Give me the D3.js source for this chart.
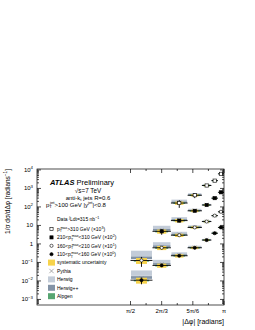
<!DOCTYPE html>
<html>
<head>
<meta charset="utf-8">
<script src="https://cdn.jsdelivr.net/npm/d3@7"></script>
<style>
body { margin: 0; background: #fff; }
svg text { font-family: "Liberation Sans", Arial, Helvetica, sans-serif; fill: #000; }
</style>
</head>
<body>
<svg id="chart" width="255" height="330"></svg>
<script>
// |dphi| bins (radians)
var binLo = [1.571, 1.94, 2.25, 2.53, 2.77, 2.93, 3.04];
var binHi = [1.94, 2.25, 2.53, 2.77, 2.93, 3.04, 3.1416];

// 1/sigma dsigma/d(dphi) per pT range, before the scale factor
var ptMax310 = [0.162, 0.427, 1.44, 2.64, 6.16];
var pt210to310 = [0.048, 0.183, 0.616, 1.27, 2.97, 6.17];
var pt160to210 = [0.0128, 0.062, 0.296, 0.78, 1.62, 3.38, 5.46];
var pt110to160 = [0.011, 0.069, 0.23, 0.62, 1.62, 3.8, 7.8];
var firstBin = [2, 1, 0, 0];
var scaleFactor = [1000, 100, 10, 1];

// relative stat. errors
var stat310 = [0.45, 0.3, 0.18, 0.12, 0.08];
var stat210 = [0.35, 0.2, 0.12, 0.1, 0.06, 0.05];
var stat160 = [0.55, 0.2, 0.12, 0.08, 0.06, 0.05, 0.04];
var stat110 = [0.4, 0.15, 0.08, 0.06, 0.05, 0.04, 0.03];

// relative systematic uncertainty per bin
var sysErr = [0.35, 0.25, 0.2, 0.15, 0.12, 0.1, 0.08];

// MC / data per bin, and the width of the MC bands
var herwigRatio = [2.4, 1.6, 1.3, 1.15, 1.05, 1.0, 0.98];
var herwigppRatio = [1.4, 1.2, 1.1, 1.05, 1.02, 1.0, 0.99];
var alpgenRatio = [0.95, 0.97, 1.0, 1.0, 1.0, 1.0, 1.0];
var pythiaRatio = [1.25, 1.15, 1.1, 1.05, 1.02, 1.0, 1.0];
var mcBand = [1.4, 1.25, 1.18, 1.12, 1.1, 1.08, 1.06];

var yTickExp = [-3, -2, -1, 0, 1, 2, 3, 4];
var xTickVals = [Math.PI / 2, 2 * Math.PI / 3, 5 * Math.PI / 6, Math.PI];
var xTickText = ["π/2", "2π/3", "5π/6", "π"];

var series = [
  {vals: ptMax310, stat: stat310, marker: "openSquare"},
  {vals: pt210to310, stat: stat210, marker: "square"},
  {vals: pt160to210, stat: stat160, marker: "openCircle"},
  {vals: pt110to160, stat: stat110, marker: "circle"}
];

var colSys = "#f7d34a", colHerwig = "#c3ccd8", colHerwigpp = "#8393a6", colAlpgen = "#56a571";

var svg = d3.select("#chart");
var L = 37, R = 224, T = 169, B = 305;
var x = d3.scaleLinear().domain([0, Math.PI]).range([L, R]);
var y = d3.scaleLog().domain([Math.pow(10, -3.3), Math.pow(10, 4.05)]).range([B, T]);

// rich text helper: parts = [text, "sub"|"sup"|undefined, dx]
function rich(sel, parts, size) {
  var off = 0;
  parts.forEach(function(p) {
    var shift = p[1] === "sub" ? 0.3 * size : p[1] === "sup" ? -0.42 * size : 0;
    var t = sel.append("tspan").text(p[0]).attr("dy", shift - off)
      .style("font-size", (p[1] ? size * 0.72 : size) + "px");
    if (p[2]) t.attr("dx", p[2]);
    off = shift;
  });
  return sel;
}

function drawMarker(g, type, cx, cy) {
  if (type === "openSquare" || type === "square") {
    g.append("rect").attr("x", cx - 1.6).attr("y", cy - 1.6).attr("width", 3.2).attr("height", 3.2)
      .attr("fill", type === "square" ? "#000" : "#fff").attr("stroke", "#000").attr("stroke-width", 0.6);
  } else {
    g.append("circle").attr("cx", cx).attr("cy", cy).attr("r", 1.6)
      .attr("fill", type === "circle" ? "#000" : "#fff").attr("stroke", "#000").attr("stroke-width", 0.6);
  }
}

function drawX(g, cx, cy, s) {
  g.append("path").attr("d", "M" + (cx - s) + "," + (cy - s) + "L" + (cx + s) + "," + (cy + s) +
    "M" + (cx + s) + "," + (cy - s) + "L" + (cx - s) + "," + (cy + s))
    .attr("stroke", "#777").attr("stroke-width", 0.6).attr("fill", "none");
}

// points
var plot = svg.append("g");
series.forEach(function(s, si) {
  s.vals.forEach(function(raw, i) {
    var b = firstBin[si] + i;
    var v = raw * scaleFactor[si];
    var x0 = x(binLo[b]), x1 = x(binHi[b]), xc = (x0 + x1) / 2, w = x1 - x0;
    var hv = v * herwigRatio[b], hp = v * herwigppRatio[b], av = v * alpgenRatio[b];
    plot.append("rect").attr("x", x0 + 0.5).attr("width", w - 1)
      .attr("y", y(hv * mcBand[b])).attr("height", y(hv / mcBand[b]) - y(hv * mcBand[b]))
      .attr("fill", colHerwig);
    plot.append("rect").attr("x", x0 + 0.5).attr("width", w - 1)
      .attr("y", y(hp * Math.sqrt(mcBand[b]))).attr("height", y(hp / Math.sqrt(mcBand[b])) - y(hp * Math.sqrt(mcBand[b])))
      .attr("fill", colHerwigpp);
    plot.append("rect").attr("x", x0 + w * 0.15).attr("width", w * 0.7)
      .attr("y", y(av) - 0.8).attr("height", 1.6)
      .attr("fill", colAlpgen);
    plot.append("rect").attr("x", xc - w * 0.25).attr("width", w * 0.5)
      .attr("y", y(v * (1 + sysErr[b]))).attr("height", y(v * (1 - sysErr[b])) - y(v * (1 + sysErr[b])))
      .attr("fill", colSys);
    plot.append("line").attr("x1", x0).attr("x2", x1).attr("y1", y(v)).attr("y2", y(v))
      .attr("stroke", "#000").attr("stroke-width", 0.9);
    plot.append("line").attr("x1", xc).attr("x2", xc)
      .attr("y1", y(v * (1 + s.stat[i]))).attr("y2", y(v * (1 - s.stat[i])))
      .attr("stroke", "#000").attr("stroke-width", 0.9);
    drawX(plot, xc, y(v * pythiaRatio[b]), 1.8);
    drawMarker(plot, s.marker, xc, y(v));
  });
});

// frame and ticks
var ax = svg.append("g").attr("stroke", "#000").attr("stroke-width", 0.7);
ax.append("rect").attr("x", L).attr("y", T).attr("width", R - L).attr("height", B - T).attr("fill", "none");
var minor = [];
d3.range(-4, 5).forEach(function(k) {
  d3.range(2, 10).forEach(function(m) {
    var v = m * Math.pow(10, k);
    if (v > y.domain()[0] && v < y.domain()[1]) minor.push(v);
  });
});
yTickExp.forEach(function(e) {
  var yy = y(Math.pow(10, e));
  ax.append("line").attr("x1", L).attr("x2", L + 4).attr("y1", yy).attr("y2", yy);
  ax.append("line").attr("x1", R).attr("x2", R - 4).attr("y1", yy).attr("y2", yy);
});
minor.forEach(function(v) {
  var yy = y(v);
  ax.append("line").attr("x1", L).attr("x2", L + 2).attr("y1", yy).attr("y2", yy);
  ax.append("line").attr("x1", R).attr("x2", R - 2).attr("y1", yy).attr("y2", yy);
});
d3.range(6, 13).forEach(function(k) {
  var xx = x(k * Math.PI / 12), len = k % 2 === 0 ? 4 : 2;
  ax.append("line").attr("x1", xx).attr("x2", xx).attr("y1", B).attr("y2", B - len);
  ax.append("line").attr("x1", xx).attr("x2", xx).attr("y1", T).attr("y2", T + len);
});

// tick labels
yTickExp.forEach(function(e) {
  var t = svg.append("text").attr("x", 33).attr("y", y(Math.pow(10, e)) + 2)
    .attr("text-anchor", "end").style("font-size", "6px");
  if (e === 0) t.text("1");
  else if (e === 1) t.text("10");
  else rich(t, [["10"], [String(e).replace("-", "−"), "sup"]], 6);
});
xTickVals.forEach(function(v, i) {
  svg.append("text").attr("x", x(v)).attr("y", 313).attr("text-anchor", "middle")
    .style("font-size", "6px").text(xTickText[i]);
});

// axis titles
rich(svg.append("text").attr("transform", "translate(10," + T + ") rotate(-90)")
  .attr("text-anchor", "end").style("font-size", "6.5px"),
  [["1/σ dσ/dΔφ [radians"], ["−1", "sup"], ["]"]], 6.5);
svg.append("text").attr("x", R).attr("y", 324).attr("text-anchor", "end")
  .style("font-size", "7px").text("|Δφ| [radians]");

// header
var hd = svg.append("text").attr("x", 50).attr("y", 185).style("font-size", "7.5px");
hd.append("tspan").text("ATLAS").style("font-weight", "bold").style("font-style", "italic");
hd.append("tspan").text(" Preliminary");
svg.append("text").attr("x", 88).attr("y", 192.5).attr("text-anchor", "middle")
  .style("font-size", "6.3px").text("√s=7 TeV");
rich(svg.append("text").attr("x", 88).attr("y", 199.5).attr("text-anchor", "middle"),
  [["anti-k"], ["t", "sub"], [" jets R=0.6"]], 6);
rich(svg.append("text").attr("x", 46).attr("y", 206.5),
  [["p"], ["T", "sub"], ["jet", "sup", -2], [">100 GeV    |y"], ["jet", "sup"], ["|<0.8"]], 6);
rich(svg.append("text").attr("x", 57).attr("y", 221),
  [["Data "], ["∫", "sup"], ["Ldt=315 nb"], ["−1", "sup"]], 5);

// legend
var rowY = [229, 237.4, 245.8, 254.2, 262.6, 271, 279.4, 287.8, 296.2];
var legendText = [
  [["p"], ["T", "sub"], ["max", "sup", -1.6], [">310 GeV (×10"], ["3", "sup"], [")"]],
  [["210<p"], ["T", "sub"], ["max", "sup", -1.6], ["<310 GeV (×10"], ["2", "sup"], [")"]],
  [["160<p"], ["T", "sub"], ["max", "sup", -1.6], ["<210 GeV (×10"], ["1", "sup"], [")"]],
  [["110<p"], ["T", "sub"], ["max", "sup", -1.6], ["<160 GeV (×10"], ["0", "sup"], [")"]],
  [["systematic uncertainty"]],
  [["Pythia"]],
  [["Herwig"]],
  [["Herwig++"]],
  [["Alpgen"]]
];
var lg = svg.append("g");
legendText.forEach(function(parts, i) {
  rich(lg.append("text").attr("x", 57).attr("y", rowY[i] + 1.8), parts, 5);
});
series.forEach(function(s, i) {
  drawMarker(lg, s.marker, 51.5, rowY[i]);
});
[colSys, null, colHerwig, colHerwigpp, colAlpgen].forEach(function(c, i) {
  if (c) lg.append("rect").attr("x", 48).attr("y", rowY[i + 4] - 3).attr("width", 7).attr("height", 6).attr("fill", c);
});
drawX(lg, 51.5, rowY[5], 2.2);
</script>
</body>
</html>
